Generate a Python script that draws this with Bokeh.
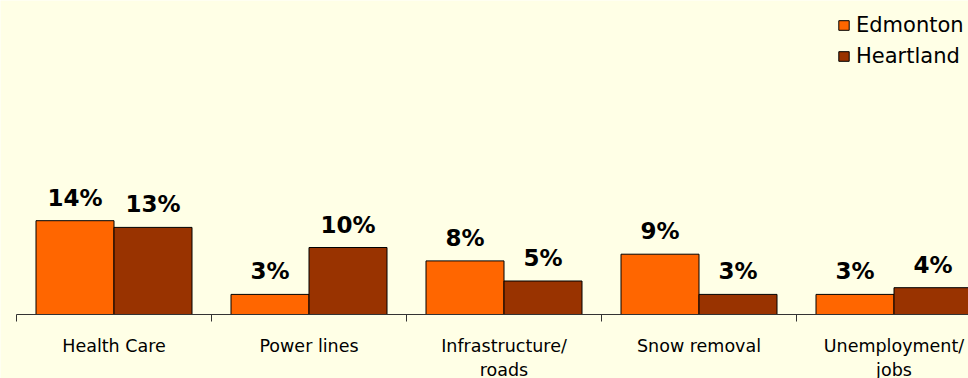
import math
from bokeh.plotting import figure
from bokeh.models import Range1d, ColumnDataSource, Legend, LegendItem
from bokeh.core.properties import value
from bokeh.embed import file_html
from bokeh.resources import INLINE

categories = ["Health Care", "Power lines", "Infrastructure/\nroads", "Snow removal", "Unemployment/\njobs"]
edmonton = [14, 3, 8, 9, 3]
heartland = [13, 10, 5, 3, 4]
series_names = ["Edmonton", "Heartland"]
colors = ["#FF6600", "#993300"]
BG = "#FFFFE6"
AXIS = "#333333"

n = len(categories)
centers = [i + 0.5 for i in range(n)]
bounds = list(range(n + 1))

PX_X = 195.0   # pixels per category
PX_Y = 6.7     # pixels per percentage point
p = figure(width=968, height=378, output_backend="svg", toolbar_location=None,
           x_range=Range1d(-16 / PX_X, 952 / PX_X), y_range=Range1d(-64 / PX_Y, 314 / PX_Y),
           min_border_left=0, min_border_right=0, min_border_top=0, min_border_bottom=0)
p.background_fill_color = BG
p.border_fill_color = BG
p.outline_line_color = None
p.grid.visible = False
p.axis.visible = False

renderers = []
for k, (vals, col) in enumerate(zip([edmonton, heartland], colors)):
    xs = [c - 0.2 + 0.4 * k for c in centers]
    src = ColumnDataSource(dict(x=xs, top=vals, lab=[f"{v}%" for v in vals]))
    r = p.vbar(x="x", top="top", width=0.4, bottom=0, source=src,
               fill_color=col, line_color="#000000", line_width=1)
    renderers.append(r)
    p.text(x="x", y="top", text="lab", source=src, text_align="center",
           text_baseline="alphabetic", y_offset=-23,
           text_font=value("DejaVu Sans"), text_font_style="bold",
           text_font_size="23px", text_color="#000000")

# category axis: baseline, boundary ticks and labels
p.segment(x0=[bounds[0]], y0=[0], x1=[bounds[-1]], y1=[0], line_color=AXIS, line_width=1)
p.ray(x=bounds, y=[0] * len(bounds), length=7, length_units="screen",
      angle=-math.pi / 2, line_color=AXIS, line_width=1)
cat_src = ColumnDataSource(dict(x=centers, y=[0] * n, lab=categories))
p.text(x="x", y="y", text="lab", source=cat_src, y_offset=21,
       text_align="center", text_baseline="top",
       text_font=value("DejaVu Sans"), text_font_size="17.5px",
       text_line_height=1.2, text_color="#000000")

legend = Legend(items=[LegendItem(label=nm, renderers=[r]) for nm, r in zip(series_names, renderers)],
                location=(837, 310), padding=0, margin=0, spacing=7,
                glyph_width=13, glyph_height=12, label_standoff=6, label_height=20,
                label_text_font="DejaVu Sans", label_text_font_size="21px",
                label_text_color="#000000",
                border_line_color=None, background_fill_alpha=0)
p.add_layout(legend)

open("out.html", "w").write(file_html(p, INLINE))
